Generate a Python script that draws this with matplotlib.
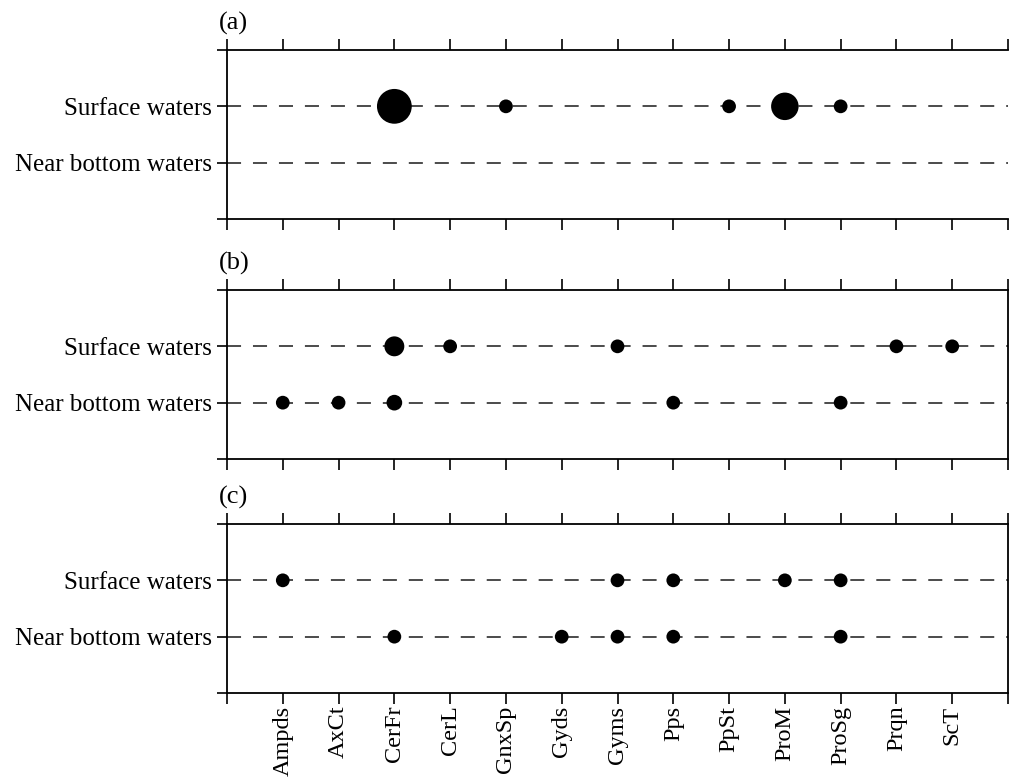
import matplotlib
matplotlib.use("Agg")
import matplotlib.pyplot as plt

plt.rcParams["font.family"] = ["Liberation Serif", "DejaVu Serif"]

# Taxa on the x axis
taxa = ["Ampds", "AxCt", "CerFr", "CerL", "GnxSp", "Gyds", "Gyms",
        "Pps", "PpSt", "ProM", "ProSg", "Prqn", "ScT"]

# Water layers on the y axis
layers = ["Near bottom waters", "Surface waters"]

# Relative occurrence per layer for each panel (taxon -> relative weight)
a_surface = {"CerFr": 6.4, "GnxSp": 1.0, "PpSt": 1.0, "ProM": 4.0, "ProSg": 1.0}
a_bottom = {}

b_surface = {"CerFr": 2.1, "CerL": 1.0, "Gyms": 1.0, "Prqn": 1.0, "ScT": 1.0}
b_bottom = {"Ampds": 1.0, "AxCt": 1.0, "CerFr": 1.3, "Pps": 1.0, "ProSg": 1.0}

c_surface = {"Ampds": 1.0, "Gyms": 1.0, "Pps": 1.0, "ProM": 1.0, "ProSg": 1.0}
c_bottom = {"CerFr": 1.0, "Gyds": 1.0, "Gyms": 1.0, "Pps": 1.0, "ProSg": 1.0}

panels = [("(a)", a_surface, a_bottom),
          ("(b)", b_surface, b_bottom),
          ("(c)", c_surface, c_bottom)]

W, H = 1010, 779
fig = plt.figure(figsize=(W / 100, H / 100), dpi=100)

left_px, right_px = 227, 1008
tops_px = [50, 290, 524]
heights_px = 169

BASE_S = 98.0  # marker area (pt^2) for unit weight

xpos = {t: i + 1 for i, t in enumerate(taxa)}
ypos = {name: i + 1 for i, name in enumerate(layers)}

for k, (label, surf, bott) in enumerate(panels):
    top = tops_px[k]
    ax = fig.add_axes([left_px / W, 1 - (top + heights_px) / H,
                       (right_px - left_px) / W, heights_px / H])
    ax.set_xlim(0, len(taxa) + 1)
    ax.set_ylim(0, 3)

    for layer in layers:
        ax.axhline(ypos[layer], color="#1a1a1a", lw=1.1,
                   dashes=(9.2, 7.8), zorder=1)

    for layer, data in (("Surface waters", surf), ("Near bottom waters", bott)):
        if not data:
            continue
        xs = [xpos[t] for t in data]
        ys = [ypos[layer]] * len(data)
        ss = [v * BASE_S for v in data.values()]
        ax.scatter(xs, ys, s=ss, color="black", edgecolors="none", zorder=3)

    ax.set_xticks(range(0, len(taxa) + 2))
    ax.set_yticks([0, 1, 2, 3])
    ax.set_yticklabels(["", layers[0], layers[1], ""], fontsize=18)
    ax.tick_params(axis="y", direction="out", length=7.5, width=1.2, pad=3.5,
                   left=True, right=False)
    ax.tick_params(axis="x", direction="out", length=8, width=1.2,
                   top=True, bottom=True, labeltop=False)

    if k == 2:
        ax.set_xticklabels([""] + taxa + [""], rotation=90, fontsize=17.5,
                           va="top", ha="center")
        ax.tick_params(axis="x", pad=1)
    else:
        ax.set_xticklabels([])

    for side, sp in ax.spines.items():
        sp.set_linewidth(1.3)
    if k == 0:
        ax.spines["right"].set_visible(False)

    ax.annotate(label, xy=(0, 1), xycoords="axes fraction",
                xytext=(-6, 15), textcoords="offset points",
                ha="left", va="baseline", fontsize=19)

fig.savefig("out.png", dpi=100)
